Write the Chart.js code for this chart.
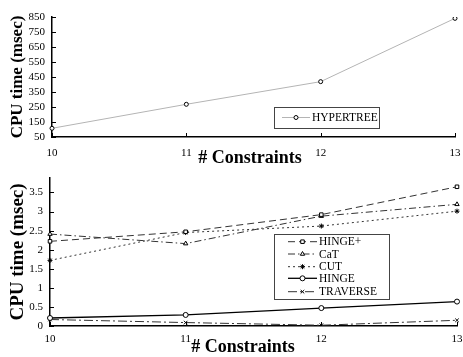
<!DOCTYPE html>
<html>
<head>
<meta charset="utf-8">
<script src="https://cdn.jsdelivr.net/npm/chart.js@4/dist/chart.umd.min.js"></script>
<style>
  html, body { margin: 0; padding: 0; background: #fff; }
  #wrap { width: 463px; height: 357px; position: relative; }
  #topBox { position: absolute; left: 0; top: 0; width: 463px; height: 168px; }
  #botBox { position: absolute; left: 0; top: 168px; width: 463px; height: 189px; }
</style>
</head>
<body>
<div id="wrap">
  <div id="topBox"><canvas id="topChart"></canvas></div>
  <div id="botBox"><canvas id="botChart"></canvas></div>
</div>
<script>
// values
const constraints = ["10", "11", "12", "13"];
const hypertree = [108, 268, 419, 841];
const topTicks = [50, 150, 250, 350, 450, 550, 650, 750, 850];

const hingePlus = [2.22, 2.47, 2.92, 3.65];
const caT = [2.41, 2.16, 2.88, 3.19];
const cut = [1.72, 2.45, 2.62, 3.01];
const hinge = [0.21, 0.29, 0.47, 0.64];
const traverse = [0.17, 0.09, 0.02, 0.15];
const bottomTicks = [0, 0.5, 1, 1.5, 2, 2.5, 3, 3.5];
const bottomMax = 3.88;

const SERIF = "'Liberation Serif', 'Times New Roman', serif";

// inward tick marks, legend box inside the plot and the x title
const extrasPlugin = {
  id: "extras",
  afterDraw(chart, args, opts) {
    const ctx = chart.ctx;
    const area = chart.chartArea;
    const xs = chart.scales.x, ys = chart.scales.y;
    ctx.save();
    ctx.strokeStyle = "#000";
    ctx.lineWidth = 1;
    ys.ticks.forEach(t => {
      const py = Math.round(ys.getPixelForValue(t.value)) + 0.5;
      ctx.beginPath();
      ctx.moveTo(area.left, py);
      ctx.lineTo(area.left + 4, py);
      ctx.stroke();
    });
    xs.ticks.forEach((t, i) => {
      const px = Math.round(xs.getPixelForTick(i)) + 0.5;
      ctx.beginPath();
      ctx.moveTo(px, area.bottom);
      ctx.lineTo(px, area.bottom - 4);
      ctx.stroke();
    });

    // legend
    const lg = opts.legend;
    if (lg) {
      ctx.fillStyle = "#fff";
      ctx.fillRect(lg.x, lg.y, lg.w, lg.h);
      ctx.strokeStyle = "#444";
      ctx.lineWidth = 1;
      ctx.strokeRect(lg.x + 0.5, lg.y + 0.5, lg.w, lg.h);
      chart.data.datasets.forEach((ds, i) => {
        const ry = lg.rows[i];
        ctx.save();
        ctx.strokeStyle = ds.borderColor;
        ctx.lineWidth = ds.borderWidth;
        ctx.setLineDash(ds.borderDash || []);
        ctx.beginPath();
        ctx.moveTo(lg.lineX0, ry);
        ctx.lineTo(lg.lineX1, ry);
        ctx.stroke();
        ctx.restore();
        ctx.save();
        ctx.fillStyle = "#fff";
        ctx.strokeStyle = "#000";
        ctx.lineWidth = 1;
        Chart.helpers.drawPoint(ctx, {
          pointStyle: ds.pointStyle,
          radius: ds.pointRadius,
          borderWidth: 1,
          rotation: 0
        }, (lg.lineX0 + lg.lineX1) / 2, ry);
        ctx.restore();
        ctx.fillStyle = "#000";
        ctx.font = lg.font;
        ctx.textBaseline = "middle";
        ctx.textAlign = "left";
        ctx.fillText(ds.label, lg.textX, ry + 0.5);
      });
    }

    // x axis title
    const xt = opts.xTitle;
    if (xt) {
      ctx.fillStyle = "#000";
      ctx.font = xt.font;
      ctx.textAlign = "center";
      ctx.textBaseline = "middle";
      ctx.fillText(xt.text, xt.x, xt.y);
    }
    ctx.restore();
  }
};

function pointDefaults(ds) {
  ds.pointBackgroundColor = "#fff";
  ds.pointBorderColor = "#000";
  ds.pointBorderWidth = 1;
  ds.fill = false;
  ds.tension = 0;
  return ds;
}

function buildOptions(cfg) {
  return {
    responsive: true,
    maintainAspectRatio: false,
    animation: false,
    devicePixelRatio: 1,
    layout: { padding: { top: cfg.padTop, right: cfg.padRight, left: 0, bottom: 0 } },
    plugins: {
      legend: { display: false },
      tooltip: { enabled: false },
      extras: { legend: cfg.legend, xTitle: cfg.xTitle }
    },
    scales: {
      x: {
        type: "category",
        offset: false,
        grid: { display: false, drawTicks: false },
        border: { display: true, color: "#000", width: 1.5 },
        ticks: { color: "#000", padding: cfg.xTickPad, font: { family: SERIF, size: 11 }, maxRotation: 0, autoSkip: false },
        afterFit(scale) {
          scale.height = cfg.xHeight;
          scale.paddingLeft = 0;
          scale.paddingRight = 0;
        }
      },
      y: {
        min: cfg.yMin,
        max: cfg.yMax,
        grid: { display: false, drawTicks: false },
        border: { display: true, color: "#000", width: 1.5 },
        afterBuildTicks(scale) { scale.ticks = cfg.yTicks.map(v => ({ value: v })); },
        ticks: { color: "#000", padding: 7, font: { family: SERIF, size: 11 }, autoSkip: false, callback: v => String(v) },
        title: {
          display: true,
          text: "CPU time (msec)",
          color: "#000",
          padding: { top: 7, bottom: 0 },
          font: { family: SERIF, size: cfg.yTitleSize, weight: "bold" }
        },
        afterFit(scale) {
          scale.width = cfg.yWidth;
          scale.paddingTop = 0;
          scale.paddingBottom = 0;
        }
      }
    }
  };
}

new Chart(document.getElementById("topChart").getContext("2d"), {
  type: "line",
  data: {
    labels: constraints,
    datasets: [
      pointDefaults({
        label: "HYPERTREE",
        data: hypertree,
        borderColor: "#b4b4b4",
        borderWidth: 1,
        pointStyle: "circle",
        pointRadius: 2
      })
    ]
  },
  options: buildOptions({
    padTop: 17, padRight: 8, xHeight: 31, yWidth: 52, xTickPad: 10,
    yMin: 50, yMax: 850, yTicks: topTicks, yTitleSize: 17,
    legend: { x: 274, y: 107, w: 105, h: 21, rows: [117.5], lineX0: 282, lineX1: 310, textX: 312, font: "11.5px " + SERIF },
    xTitle: { text: "# Constraints", x: 250, y: 158, font: "bold 18px " + SERIF }
  }),
  plugins: [extrasPlugin]
});

new Chart(document.getElementById("botChart").getContext("2d"), {
  type: "line",
  data: {
    labels: constraints,
    datasets: [
      pointDefaults({ label: "HINGE+", data: hingePlus, borderColor: "#333", borderWidth: 1, borderDash: [7, 4], pointStyle: "rect", pointRadius: 2.5 }),
      pointDefaults({ label: "CaT", data: caT, borderColor: "#333", borderWidth: 1, borderDash: [7, 3, 1.5, 3], pointStyle: "triangle", pointRadius: 2.5 }),
      pointDefaults({ label: "CUT", data: cut, borderColor: "#333", borderWidth: 1, borderDash: [2, 3], pointStyle: "star", pointRadius: 2.5 }),
      pointDefaults({ label: "HINGE", data: hinge, borderColor: "#000", borderWidth: 1.3, pointStyle: "circle", pointRadius: 2.5 }),
      pointDefaults({ label: "TRAVERSE", data: traverse, borderColor: "#333", borderWidth: 1, borderDash: [9, 3, 2, 3], pointStyle: "crossRot", pointRadius: 2.5 })
    ]
  },
  options: buildOptions({
    padTop: 10, padRight: 6, xHeight: 31, yWidth: 50, xTickPad: 7,
    yMin: 0, yMax: bottomMax, yTicks: bottomTicks, yTitleSize: 19,
    legend: { x: 274, y: 66, w: 115, h: 65, rows: [73.7, 86, 98.7, 110.3, 123.7], lineX0: 288, lineX1: 317, textX: 319, font: "11.5px " + SERIF },
    xTitle: { text: "# Constraints", x: 243, y: 179, font: "bold 18px " + SERIF }
  }),
  plugins: [extrasPlugin]
});
</script>
</body>
</html>
